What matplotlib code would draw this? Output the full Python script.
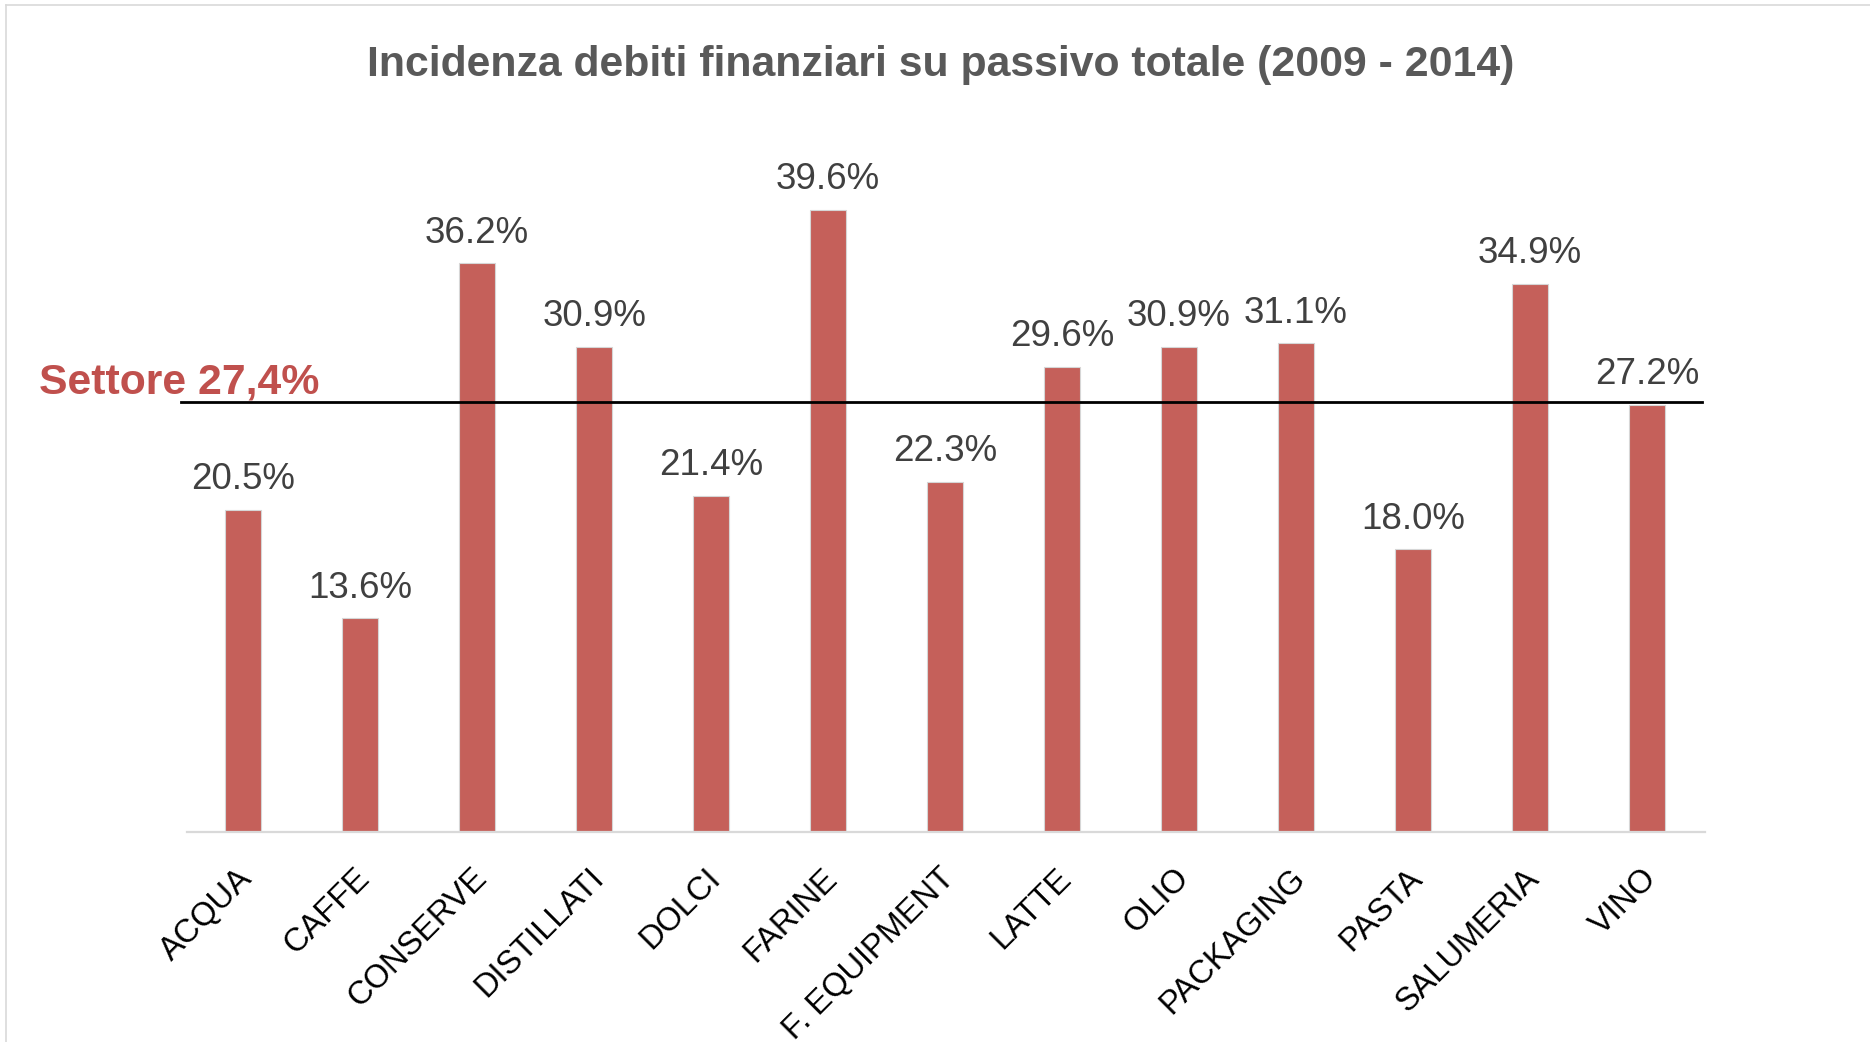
import matplotlib.pyplot as plt
import matplotlib.transforms as mtransforms
from matplotlib.lines import Line2D

# data
categories = ['ACQUA', 'CAFFE', 'CONSERVE', 'DISTILLATI', 'DOLCI', 'FARINE',
              'F. EQUIPMENT', 'LATTE', 'OLIO', 'PACKAGING', 'PASTA',
              'SALUMERIA', 'VINO']
values = [20.5, 13.6, 36.2, 30.9, 21.4, 39.6, 22.3, 29.6, 30.9, 31.1, 18.0, 34.9, 27.2]
sector = 27.4
title = 'Incidenza debiti finanziari su passivo totale (2009 - 2014)'
sector_label = 'Settore 27,4%'

narrow = ['Liberation Sans Narrow', 'Liberation Sans', 'DejaVu Sans']
plt.rcParams['font.family'] = ['Liberation Sans', 'DejaVu Sans']

fig = plt.figure(figsize=(18.7, 10.42), dpi=100)
ax = fig.add_axes([0.100, 0.2015, 0.812, 0.6785])

x = list(range(len(categories)))
bars = ax.bar(x, values, width=0.31, color='#C5605A', edgecolor='#D6D6D6', linewidth=0.8, zorder=2)

for xi, v in zip(x, values):
    ax.annotate(f'{v:.1f}%', xy=(xi, v), xytext=(0, 14.8), textcoords='offset points',
                ha='center', va='baseline', fontsize=26.5, color='#404040')

# sector reference line
ax.axhline(sector, xmin=-0.004, xmax=0.998, color='black', linewidth=2.0, zorder=3, clip_on=False)
ax.annotate(sector_label, xy=(0.021, sector), xycoords=('figure fraction', 'data'),
            xytext=(0, 6), textcoords='offset points', ha='left', va='baseline',
            fontsize=30.8, fontweight='bold', color='#C0504D', family=narrow)

ax.set_xlim(-0.48, len(categories) - 0.5)
ax.set_ylim(0, 45)
ax.set_yticks([])
for s in ['top', 'right', 'left']:
    ax.spines[s].set_visible(False)
ax.spines['bottom'].set_color('#D9D9D9')
ax.spines['bottom'].set_linewidth(1.6)

ax.set_xticks(x)
ax.set_xticklabels(categories, rotation=45, ha='right', va='top', rotation_mode='anchor',
                   fontsize=23.5, color='black')
ax.tick_params(axis='x', length=0, pad=22)
offset = mtransforms.ScaledTranslation(-6 / 100, 0, fig.dpi_scale_trans)
for lab in ax.get_xticklabels():
    lab.set_transform(lab.get_transform() + offset)

fig.text(0.503, 0.938, title, ha='center', va='center', fontsize=30.8, fontweight='bold',
         color='#595959', family=narrow)

# chart area border (left and top visible)
fig.add_artist(Line2D([6 / 1870, 6 / 1870], [0, 1 - 5 / 1042], transform=fig.transFigure,
                      color='#D9D9D9', linewidth=1.2))
fig.add_artist(Line2D([6 / 1870, 1], [1 - 5 / 1042, 1 - 5 / 1042], transform=fig.transFigure,
                      color='#D9D9D9', linewidth=1.2))

fig.savefig('out.png', dpi=100, facecolor='white')
